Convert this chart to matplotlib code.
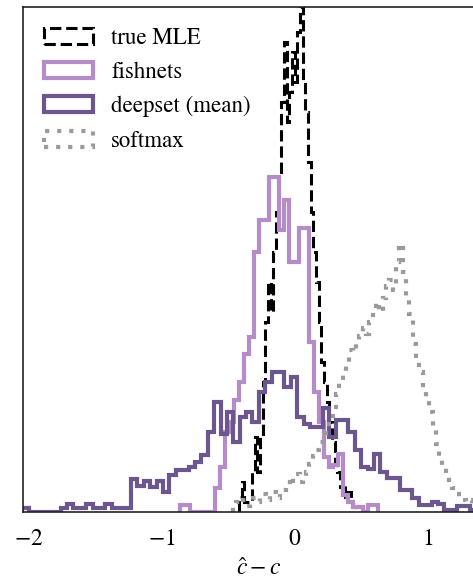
import numpy as np
import matplotlib
matplotlib.use("Agg")
import matplotlib.pyplot as plt

plt.rcParams['font.family'] = ['STIXGeneral', 'DejaVu Serif']
plt.rcParams['mathtext.fontset'] = 'stix'

# ---- data (heights, arbitrary units) ----
mle_range = (-0.42, 0.46)
mle_counts = [15, 30, 10, 10, 10, 40, 75, 40, 75, 130, 190, 230, 200, 260, 300,
              340, 410, 470, 390, 420, 460, 430, 480, 505, 430, 400, 350, 300,
              260, 230, 190, 150, 130, 110, 90, 70, 50, 40, 25, 30, 15, 20, 10, 5]

fish_range = (-0.862, 0.626)
fish_counts = [7, 7, 0, 0, 0, 0, 0, 24, 45, 80, 90, 112, 130, 158, 175, 260, 292,
               292, 335, 335, 282, 312, 250, 250, 284, 284, 170, 120, 90, 55, 45,
               47, 58, 17, 10, 5, 5, 0, 7, 7]

deep_range = (-2.049, 1.414)
deep_counts = [4, 0, 0, 0, 0, 0, 4, 8, 4, 4, 8, 4, 4, 8, 4, 4, 4, 33, 26, 31, 25,
               31, 20, 37, 42, 42, 45, 50, 57, 80, 110, 78, 100, 70, 95, 100, 90,
               120, 130, 140, 140, 125, 135, 95, 88, 85, 85, 104, 75, 92, 92, 80,
               62, 45, 43, 58, 40, 34, 34, 22, 22, 14, 7, 7, 10, 8, 2, 2, 6, 6, 2, 2]

soft_range = (-0.464, 1.436)
soft_counts = [6, 10, 8, 12, 6, 10, 14, 10, 14, 18, 12, 16, 20, 14, 18, 22, 30, 26,
               34, 38, 30, 36, 40, 48, 56, 62, 70, 76, 84, 92, 100, 118, 130, 138,
               150, 162, 160, 168, 176, 184, 178, 190, 202, 210, 200, 214, 226, 232,
               222, 250, 268, 240, 214, 198, 168, 152, 140, 124, 112, 100, 82, 68,
               52, 44, 38, 30, 24, 18, 14, 12, 10, 12, 8, 6, 6, 4]

labels = ["true MLE", "fishnets", "deepset (mean)", "softmax"]
colors = ["black", "#b68cc8", "#6b568d", "#9a9a9a"]
xticks = [-2, -1, 0, 1]

# ---- figure ----
W, H, DPI = 473, 583, 100
fig = plt.figure(figsize=(W / DPI, H / DPI), dpi=DPI)
x_left, x_right = -2.043, 1.5
px_per_unit = 133.0
left_px, top_px, bottom_px = 23, 7, 512
width_px = (x_right - x_left) * px_per_unit
ax = fig.add_axes([left_px / W, (H - bottom_px) / H, width_px / W, (bottom_px - top_px) / H])


def draw(counts, rng, **kw):
    counts = np.asarray(counts, float)
    edges = np.linspace(rng[0], rng[1], len(counts) + 1)
    centers = 0.5 * (edges[:-1] + edges[1:])
    ax.hist(centers, bins=edges, weights=counts, histtype='step', **kw)


draw(mle_counts, mle_range, color=colors[0], lw=2.2, ls='--', label=labels[0])
draw(fish_counts, fish_range, color=colors[1], lw=3.0, label=labels[1])
draw(deep_counts, deep_range, color=colors[2], lw=3.0, label=labels[2])
draw(soft_counts, soft_range, color=colors[3], lw=3.0, ls=(0, (1, 1.9)), label=labels[3])

ax.set_xlim(x_left, x_right)
ax.set_ylim(0, 505)
ax.set_yticks([])
ax.set_xticks(xticks)
ax.set_xticklabels([f"$-{abs(t)}$" if t < 0 else f"${t}$" for t in xticks])
ax.tick_params(axis='x', length=0, pad=12, labelsize=17)
for s in ['left', 'top', 'bottom']:
    ax.spines[s].set_linewidth(1.2)
    ax.spines[s].set_color('#222222')
ax.spines['right'].set_visible(False)
ax.set_xlabel(r"$\hat{c} - c$", fontsize=17, labelpad=6)

ax.legend(loc='upper left', frameon=False, fontsize=16.5, handlelength=2.15,
          labelspacing=0.56, handletextpad=0.8, borderaxespad=0.5)

fig.savefig("out.png", dpi=DPI)
